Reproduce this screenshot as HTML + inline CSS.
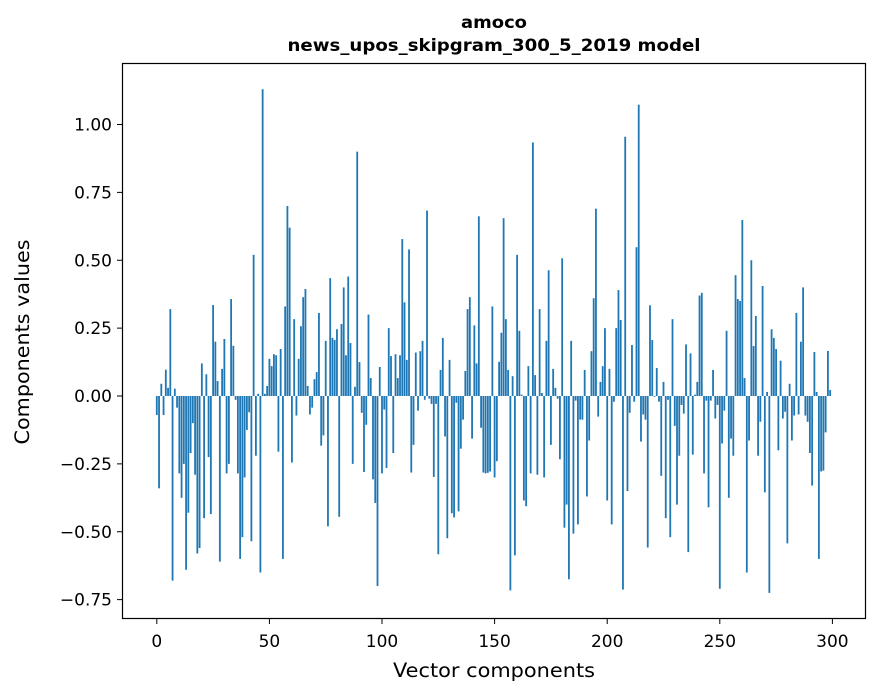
<!DOCTYPE html>
<html><head><meta charset="utf-8"><style>
html,body{margin:0;padding:0;background:#fff;}
svg{display:block;font-family:"DejaVu Sans","Liberation Sans",sans-serif;}
</style></head><body>
<svg id="chart" width="880" height="696" viewBox="0 0 880 696" xmlns="http://www.w3.org/2000/svg">
<rect x="0" y="0" width="880" height="696" fill="#fff"/>
<text x="494" y="28" text-anchor="middle" font-size="17" font-weight="bold" textLength="66" lengthAdjust="spacingAndGlyphs">amoco</text>
<text x="494" y="51" text-anchor="middle" font-size="17" font-weight="bold" textLength="413" lengthAdjust="spacingAndGlyphs">news_upos_skipgram_300_5_2019 model</text>
<g id="bars"></g>
<g id="xticks"></g>
<g id="yticks"></g>
<rect x="122.5" y="63.5" width="743" height="555" fill="none" stroke="#000" stroke-width="1.2"/>
<text x="494" y="677" text-anchor="middle" font-size="19.5" textLength="202" lengthAdjust="spacingAndGlyphs">Vector components</text>
<text transform="translate(29,342) rotate(-90)" text-anchor="middle" font-size="19.5" textLength="205" lengthAdjust="spacingAndGlyphs">Components values</text>
</svg>
<script>
const values = [-0.07,-0.34,0.045,-0.07,0.097,0.03,0.32,-0.68,0.027,-0.043,
-0.285,-0.375,-0.25,-0.64,-0.43,-0.21,-0.1,-0.29,-0.58,-0.56,
0.12,-0.45,0.08,-0.225,-0.435,0.335,0.2,0.055,-0.61,0.1,
0.21,-0.285,-0.25,0.357,0.185,-0.014,-0.285,-0.6,-0.52,-0.3,
-0.125,-0.06,-0.535,0.52,-0.22,0.008,-0.65,1.13,0.008,0.037,
0.137,0.11,0.154,0.15,-0.205,0.173,-0.6,0.33,0.70,0.62,
-0.245,0.283,-0.072,0.137,0.257,0.364,0.394,0.037,-0.068,-0.043,
0.062,0.088,0.306,-0.183,-0.145,0.203,-0.48,0.434,0.214,0.206,
0.246,-0.445,0.265,0.4,0.15,0.44,0.195,-0.25,0.034,0.90,
0.125,-0.062,-0.28,-0.106,0.3,0.066,-0.307,-0.394,-0.70,0.107,
-0.285,-0.05,-0.265,0.25,0.147,-0.21,0.154,0.066,0.15,0.578,
0.345,0.133,0.54,-0.282,-0.18,0.16,-0.054,0.165,0.203,-0.014,
0.683,-0.01,-0.029,-0.298,-0.029,-0.583,0.096,0.214,-0.149,-0.524,
0.133,-0.432,-0.447,-0.025,-0.425,-0.194,-0.087,0.092,0.32,0.364,
-0.157,0.26,0.12,0.662,-0.117,-0.282,-0.285,-0.283,-0.278,0.33,
-0.3,-0.24,0.126,0.233,0.655,0.283,0.096,-0.716,0.073,-0.587,
0.52,0.24,0.005,-0.385,-0.406,0.11,-0.285,0.934,0.077,-0.29,
0.32,0.011,-0.3,0.203,0.463,-0.18,0.1,0.03,-0.01,-0.233,
0.507,-0.485,-0.40,-0.675,0.203,-0.507,-0.017,-0.473,-0.087,-0.087,
0.096,-0.37,-0.164,0.165,0.36,0.69,-0.076,0.052,0.11,0.25,
-0.385,0.1,-0.473,-0.021,0.25,0.39,0.28,-0.713,0.955,-0.35,
-0.062,0.188,-0.021,0.548,1.073,-0.168,-0.068,-0.087,-0.558,0.334,
0.206,-0.003,0.103,-0.021,-0.294,0.052,-0.45,-0.014,-0.52,0.283,
-0.11,-0.40,-0.22,-0.033,-0.065,0.19,-0.575,0.157,-0.216,0.005,
0.052,0.37,0.38,-0.285,-0.017,-0.41,-0.017,0.096,-0.083,-0.033,
-0.71,-0.175,-0.054,0.24,-0.375,-0.157,-0.22,0.445,0.357,0.35,
0.648,0.066,-0.65,-0.164,0.5,0.184,0.295,-0.22,-0.095,0.405,
-0.355,0.015,-0.725,0.246,0.214,0.173,-0.2,0.13,-0.083,-0.058,
-0.543,0.045,-0.164,-0.072,0.306,-0.068,0.2,0.4,-0.072,-0.095,
-0.21,-0.33,0.162,0.015,-0.6,-0.278,-0.275,-0.134,0.166,0.022];
const xTicks = [0,50,100,150,200,250,300];
const yTicks = [1.0,0.75,0.5,0.25,0,-0.25,-0.5,-0.75];
const yTickLabels = ["1.00","0.75","0.50","0.25","0.00","\u22120.25","\u22120.50","\u22120.75"];

const NS = "http://www.w3.org/2000/svg";
function xScale(i){ return 156.8 + 2.252 * i; }
function yScale(v){ return 396 - 271.5 * v; }
const barW = 0.8 * 2.252;

const bars = document.getElementById('bars');
values.forEach((v, i) => {
  const r = document.createElementNS(NS, 'rect');
  const y0 = yScale(0), y1 = yScale(v);
  r.setAttribute('x', xScale(i) - barW / 2);
  r.setAttribute('y', Math.min(y0, y1));
  r.setAttribute('width', barW);
  r.setAttribute('height', Math.abs(y1 - y0));
  r.setAttribute('fill', '#1f77b4');
  
  
  bars.appendChild(r);
});

const xg = document.getElementById('xticks');
xTicks.forEach(t => {
  const x = xScale(t);
  const l = document.createElementNS(NS, 'line');
  l.setAttribute('x1', x); l.setAttribute('x2', x);
  l.setAttribute('y1', 619); l.setAttribute('y2', 624);
  l.setAttribute('stroke', '#000'); l.setAttribute('stroke-width', '1');
  
  
  xg.appendChild(l);
  const tx = document.createElementNS(NS, 'text');
  tx.setAttribute('x', x); tx.setAttribute('y', 647);
  tx.setAttribute('text-anchor', 'middle'); tx.setAttribute('font-size', '17');
  tx.textContent = String(t);
  
  
  xg.appendChild(tx);
});

const yg = document.getElementById('yticks');
yTicks.forEach((t, k) => {
  const y = yScale(t);
  const l = document.createElementNS(NS, 'line');
  l.setAttribute('x1', 117); l.setAttribute('x2', 122.5);
  l.setAttribute('y1', y); l.setAttribute('y2', y);
  l.setAttribute('stroke', '#000'); l.setAttribute('stroke-width', '1');
  
  
  yg.appendChild(l);
  const tx = document.createElementNS(NS, 'text');
  tx.setAttribute('x', 112); tx.setAttribute('y', y + 6);
  tx.setAttribute('text-anchor', 'end'); tx.setAttribute('font-size', '17');
  tx.textContent = yTickLabels[k];
  
  
  yg.appendChild(tx);
});
</script>
</body></html>
